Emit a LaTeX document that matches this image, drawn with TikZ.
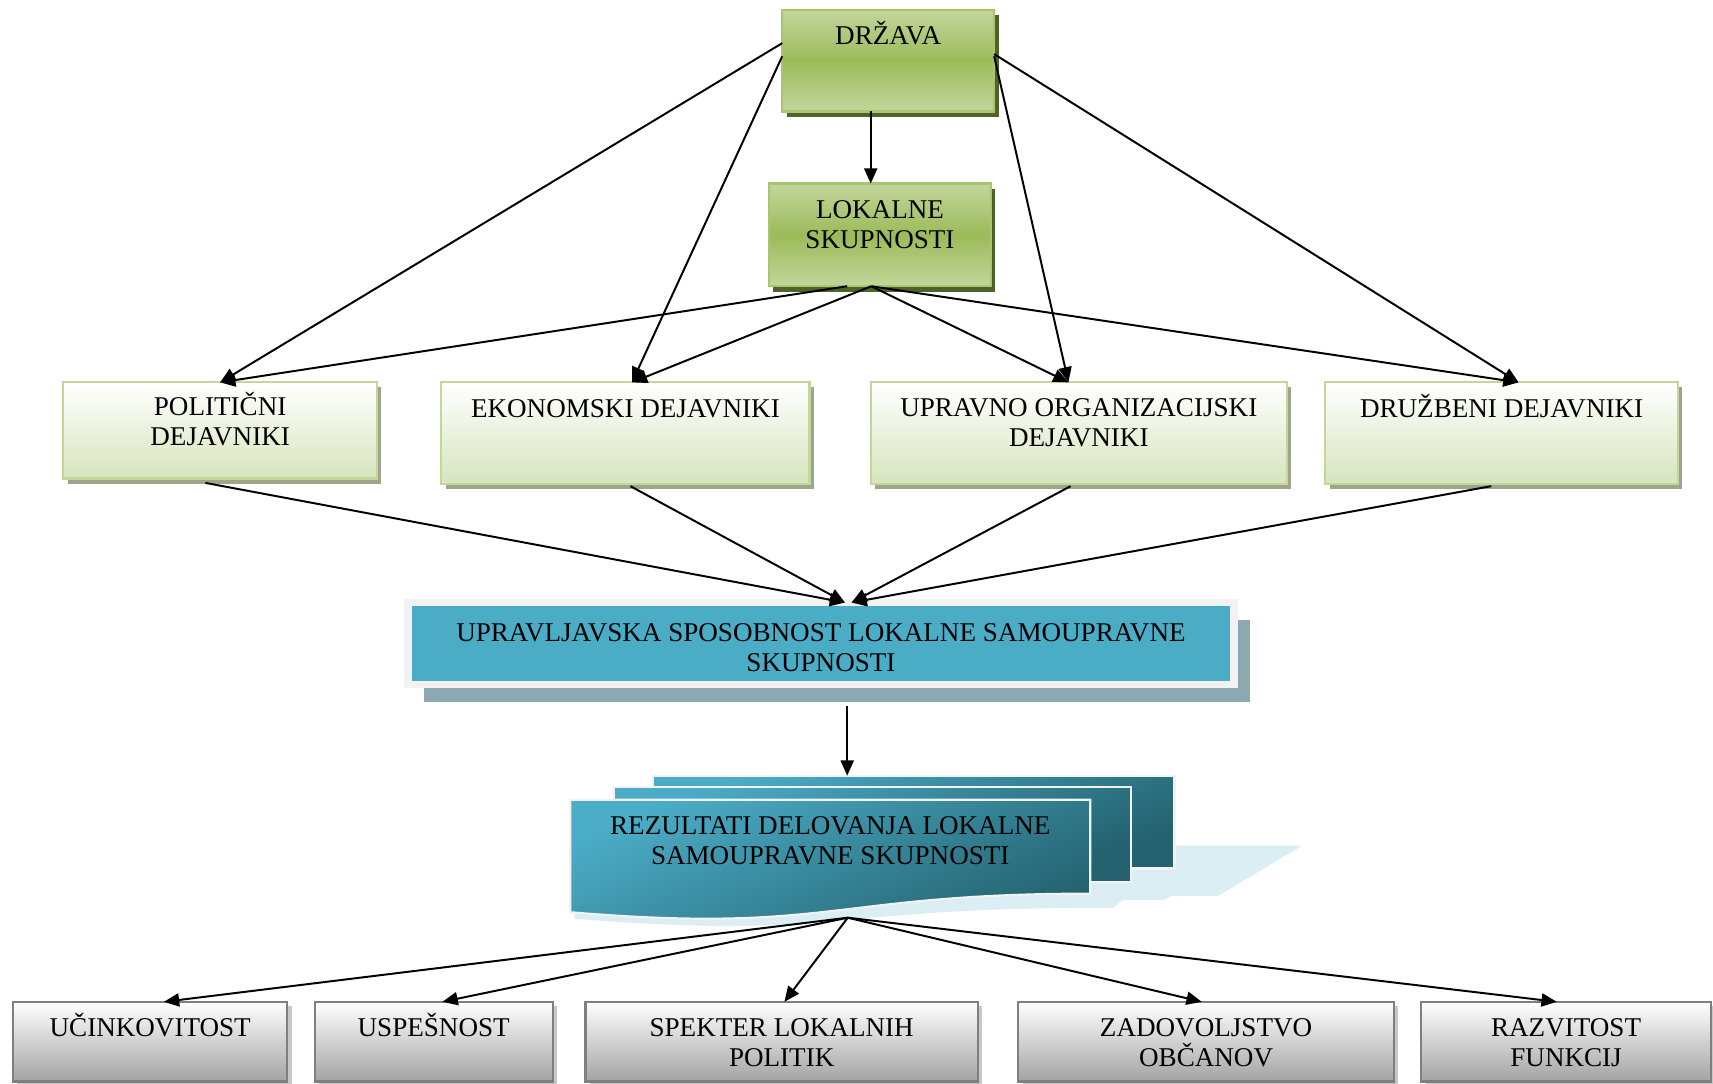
\documentclass[tikz,border=0pt]{standalone}
\usepackage{fontspec}
\setmainfont{Liberation Serif}
\usetikzlibrary{arrows.meta,shadows}

\definecolor{drzgreen}{HTML}{9BBB59}
\definecolor{drzlight}{HTML}{C3D69B}
\definecolor{drzshadow}{HTML}{4F6228}
\definecolor{faclight}{HTML}{D7E4BD}
\definecolor{facshadow}{HTML}{9EA58A}
\definecolor{upteal}{HTML}{4BACC6}
\definecolor{upframe}{HTML}{F2F2F2}
\definecolor{upshadow}{HTML}{8DA9B0}
\definecolor{docbot}{HTML}{24626F}
\definecolor{docshadow}{HTML}{DAEEF3}
\definecolor{resgray}{HTML}{A3A3A3}
\definecolor{resborder}{HTML}{7F7F7F}
\definecolor{resshadow}{HTML}{C8C8C8}

\tikzset{
  box/.style={rectangle, anchor=north west, inner sep=0pt, outer sep=0pt},
  statebox/.style={box, draw=drzgreen!85!white, line width=1pt,
    top color=drzlight, bottom color=drzlight, middle color=drzgreen,
    drop shadow={shadow xshift=2pt, shadow yshift=-2.5pt, fill=drzshadow, opacity=1}},
  factorbox/.style={box, draw=drzlight, line width=1pt,
    top color=white, bottom color=faclight,
    drop shadow={shadow xshift=2pt, shadow yshift=-2.3pt, fill=facshadow, opacity=1}},
  resultbox/.style={box, draw=resborder, line width=1pt,
    top color=white, bottom color=resgray, minimum height=36.5pt,
    drop shadow={shadow xshift=2pt, shadow yshift=-2pt, fill=resshadow, opacity=1}},
  docbox/.style={box, draw=upframe, line width=1pt,
    top color=upteal, bottom color=docbot, shading angle=25},
  boxtext/.style={anchor=base, align=center, inner sep=0pt,
    font=\fontsize{12.4}{13.7}\selectfont},
  conn/.style={-{Triangle[length=7pt,width=6pt]}, line width=0.9pt}
}

\begin{document}
\begin{tikzpicture}[x=0.5pt,y=-0.5pt]
\useasboundingbox (0,0) rectangle (1568,992);

% drzava, lokalne skupnosti
\node[statebox, minimum width=97pt, minimum height=46.5pt] (drz) at (716,9) {};
\node[boxtext] (drz-t) at ([yshift=-16pt]drz.north) {DRŽAVA};
\node[statebox, minimum width=101.5pt, minimum height=47pt] (lok) at (704,168) {};
\node[boxtext] (lok-t) at ([yshift=-29.5pt]lok.north) {LOKALNE\\SKUPNOSTI};

% dejavniki
\node[factorbox, minimum width=143.5pt, minimum height=44pt] (pol) at (58,350) {};
\node[boxtext] (pol-t) at ([yshift=-29pt]pol.north) {POLITIČNI\\DEJAVNIKI};
\node[factorbox, minimum width=168.5pt, minimum height=46.5pt] (eko) at (404,350) {};
\node[boxtext] (eko-t) at ([yshift=-16pt]eko.north) {EKONOMSKI DEJAVNIKI};
\node[factorbox, minimum width=190.5pt, minimum height=46.5pt] (org) at (797,350) {};
\node[boxtext] (org-t) at ([yshift=-29.5pt]org.north) {UPRAVNO ORGANIZACIJSKI\\DEJAVNIKI};
\node[factorbox, minimum width=161.5pt, minimum height=46.5pt] (dru) at (1213,350) {};
\node[boxtext] (dru-t) at ([yshift=-16pt]dru.north) {DRUŽBENI DEJAVNIKI};

% upravljavska sposobnost
\node[box, fill=upteal, draw=upframe, line width=3.5pt,
  minimum width=378pt, minimum height=37.5pt,
  general shadow={shadow xshift=7.5pt, shadow yshift=-8pt, fill=upshadow}]
  (upr) at (373.5,551.5) {};
\node[boxtext] (upr-t) at ([yshift=-31.5pt]upr.north)
  {UPRAVLJAVSKA SPOSOBNOST LOKALNE SAMOUPRAVNE\\SKUPNOSTI};

% rezultati (stack of documents)
\fill[docshadow] (600,774) -- (1192,774) -- (1115,820) -- (1073,820) -- (1065,824)
  -- (1027,824) -- (1019,831) -- (1002,831) .. controls (763,831) and (763,860) .. (526,841)
  -- (526,774) -- cycle;
\node[docbox, minimum width=238.5pt, minimum height=42.5pt] (rezc) at (598,710) {};
\node[docbox, minimum width=236.5pt, minimum height=43.5pt] (rezb) at (562,720) {};
\shadedraw[draw=upframe, line width=1pt, top color=upteal, bottom color=docbot, shading angle=25]
  (522,732) -- (998,732) -- (998,818) .. controls (761,818) and (761,855) .. (522,835) -- cycle;
\node[box, minimum width=238pt, minimum height=54pt] (rez) at (522,732) {};
\node[boxtext] (rez-t) at ([yshift=-29.7pt]rez.north)
  {REZULTATI DELOVANJA LOKALNE\\SAMOUPRAVNE SKUPNOSTI};

% rezultati delovanja
\node[resultbox, minimum width=125.5pt] (uci) at (12,917) {};
\node[boxtext] (uci-t) at ([yshift=-16pt]uci.north) {UČINKOVITOST};
\node[resultbox, minimum width=109pt] (usp) at (288,917) {};
\node[boxtext] (usp-t) at ([yshift=-16pt]usp.north) {USPEŠNOST};
\node[resultbox, minimum width=179.5pt] (spe) at (536,917) {};
\node[boxtext] (spe-t) at ([yshift=-29.7pt]spe.north) {SPEKTER LOKALNIH\\POLITIK};
\node[resultbox, minimum width=172pt] (zad) at (932,917) {};
\node[boxtext] (zad-t) at ([yshift=-29.7pt]zad.north) {ZADOVOLJSTVO\\OBČANOV};
\node[resultbox, minimum width=132.5pt] (raz) at (1301,917) {};
\node[boxtext] (raz-t) at ([yshift=-29.7pt]raz.north) {RAZVITOST\\FUNKCIJ};

% povezave
\draw[conn] ([xshift=-8pt]drz.south) -- ([xshift=-8pt]drz.south |- lok.north);
\draw[conn] ([yshift=8pt]drz.west) -- (pol.north);
\draw[conn] ([yshift=2pt]drz.west) -- ([xshift=3pt]eko.north);
\draw[conn] ([yshift=2pt]drz.east) -- ([xshift=-4.75pt]org.north);
\draw[conn] ([yshift=3pt]drz.east) -- ([xshift=7.75pt]dru.north);

\draw[conn] ([xshift=-15pt]lok.south) -- (pol.north);
\draw[conn] ([xshift=-4pt]lok.south) -- ([xshift=3pt]eko.north);
\draw[conn] ([xshift=-4pt]lok.south) -- ([xshift=-4.75pt]org.north);
\draw[conn] ([xshift=-4pt]lok.south) -- ([xshift=7.75pt]dru.north);

\draw[conn] ([xshift=-6.75pt,yshift=-2pt]pol.south) -- ([xshift=11pt]upr.north);
\draw[conn] ([xshift=2.25pt,yshift=-1pt]eko.south) -- ([xshift=11pt]upr.north);
\draw[conn] ([xshift=-3.75pt,yshift=-1pt]org.south) -- ([xshift=14pt]upr.north);
\draw[conn] ([xshift=-4.75pt,yshift=-1pt]dru.south) -- ([xshift=14pt]upr.north);

\draw[conn] ([xshift=12pt,yshift=-10pt]upr.south) -- ([xshift=12pt]upr.south |- rezc.north);

\draw[conn] ([xshift=8pt]rez.south) -- ([xshift=6.25pt]uci.north);
\draw[conn] ([xshift=8pt]rez.south) -- ([xshift=4pt]usp.north);
\draw[conn] ([xshift=8pt]rez.south) -- ([xshift=1.25pt]spe.north);
\draw[conn] ([xshift=8pt]rez.south) -- ([xshift=-2pt]zad.north);
\draw[conn] ([xshift=8pt]rez.south) -- ([xshift=-4.25pt]raz.north);
\end{tikzpicture}
\end{document}
